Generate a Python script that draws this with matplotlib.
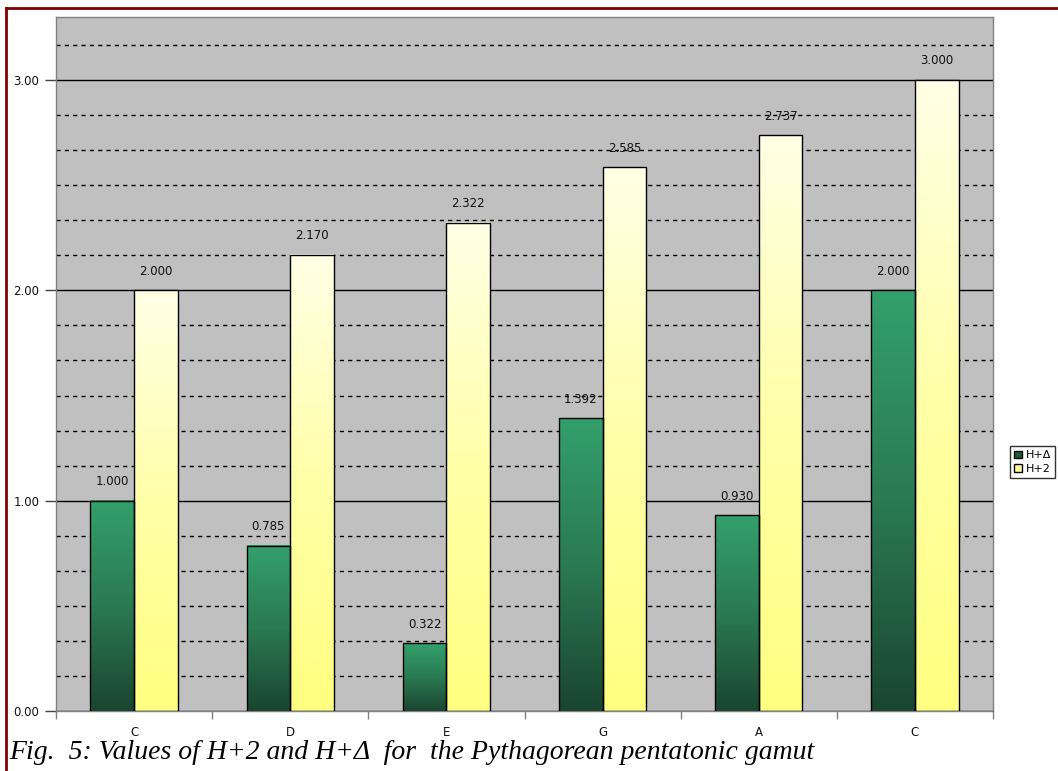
import numpy as np
import matplotlib
matplotlib.use("Agg")
import matplotlib.pyplot as plt
from matplotlib.patches import Patch, Rectangle
from matplotlib.colors import LinearSegmentedColormap
from matplotlib.ticker import MultipleLocator

# data
notes = ["C", "D", "E", "G", "A", "C"]
h_delta = [1.000, 0.785, 0.322, 1.392, 0.930, 2.000]
h_two = [2.000, 2.170, 2.322, 2.585, 2.737, 3.000]
series_names = ["H+\u0394", "H+2"]

W, H = 1058, 771
fig = plt.figure(figsize=(W / 100, H / 100), dpi=100)
ax = fig.add_axes([56 / W, 60 / H, (993 - 56) / W, (711 - 17) / H])
ax.set_facecolor("#c0c0c0")

green_cmap = LinearSegmentedColormap.from_list("g", ["#1a4530", "#2a7a52", "#33a06c"])
yellow_cmap = LinearSegmentedColormap.from_list("y", ["#ffff80", "#ffffa8", "#ffffe6"])

x = np.arange(len(notes))
bw = 0.28
grad = np.linspace(0, 1, 256).reshape(-1, 1)


def gradient_bars(xpos, vals, cmap):
    for xi, v in zip(xpos, vals):
        ax.imshow(grad, cmap=cmap, origin="lower", aspect="auto",
                  extent=(xi - bw / 2, xi + bw / 2, 0, v), zorder=2)
        ax.add_patch(Rectangle((xi - bw / 2, 0), bw, v, facecolor="none",
                               edgecolor="black", linewidth=1.0, zorder=3))
        ax.text(xi, v + 0.06, f"{v:.3f}", ha="center", va="bottom",
                fontsize=8.5, color="#111111", zorder=4)


gradient_bars(x - bw / 2, h_delta, green_cmap)
gradient_bars(x + bw / 2, h_two, yellow_cmap)

ax.set_xlim(-0.5, len(notes) - 0.5)
ax.set_ylim(0, 3.3)

# gridlines: solid at majors, dashed at sixths
ax.yaxis.set_major_locator(MultipleLocator(1.0))
ax.yaxis.set_minor_locator(MultipleLocator(1 / 6))
ax.grid(axis="y", which="major", color="black", linewidth=1.0, zorder=1)
ax.grid(axis="y", which="minor", color="black", linewidth=1.0,
        linestyle=(0, (3, 3)), zorder=1)
ax.set_axisbelow(True)
ax.set_yticklabels([f"{t:.2f}" for t in ax.get_yticks()])
ax.tick_params(axis="y", which="major", length=8, width=1, color="#444444",
               labelsize=8.5, pad=4, labelcolor="#111111")
ax.tick_params(axis="y", which="minor", length=0)

# x ticks at category borders, labels at centres
ax.set_xticks(np.arange(-0.5, len(notes)), minor=False)
ax.set_xticklabels([])
ax.set_xticks(x, minor=True)
ax.set_xticklabels(notes, minor=True)
ax.tick_params(axis="x", which="major", length=6, width=1, color="#808080")
ax.tick_params(axis="x", which="minor", length=0, labelsize=8.5, pad=11,
               labelcolor="#111111")

for s in ax.spines.values():
    s.set_color("#808080")
    s.set_linewidth(1.0)

handles = [Patch(facecolor="#1e5a3c", edgecolor="black"),
           Patch(facecolor="#ffff99", edgecolor="black")]
fig.legend(handles, series_names, loc="upper left",
           bbox_to_anchor=(1010 / W, 1 - 446 / H), fontsize=8,
           frameon=True, fancybox=False, edgecolor="black",
           handlelength=0.7, handleheight=0.7, handletextpad=0.3,
           borderpad=0.4, labelspacing=0.3, borderaxespad=0)

# page border lines
fig.add_artist(plt.Line2D([6 / W, 6 / W], [0, 1 - 8 / H], transform=fig.transFigure,
                          color="#800000", linewidth=2))
fig.add_artist(plt.Line2D([6 / W, 1], [1 - 8 / H, 1 - 8 / H], transform=fig.transFigure,
                          color="#800000", linewidth=2))

fig.text(9 / W, 1 - 759 / H,
         "Fig.  5: Values of H+2 and H+\u0394  for  the Pythagorean pentatonic gamut",
         family=["Liberation Serif", "DejaVu Serif"], style="italic",
         fontsize=20, color="black", ha="left", va="baseline")

fig.savefig("out.png", dpi=100)
